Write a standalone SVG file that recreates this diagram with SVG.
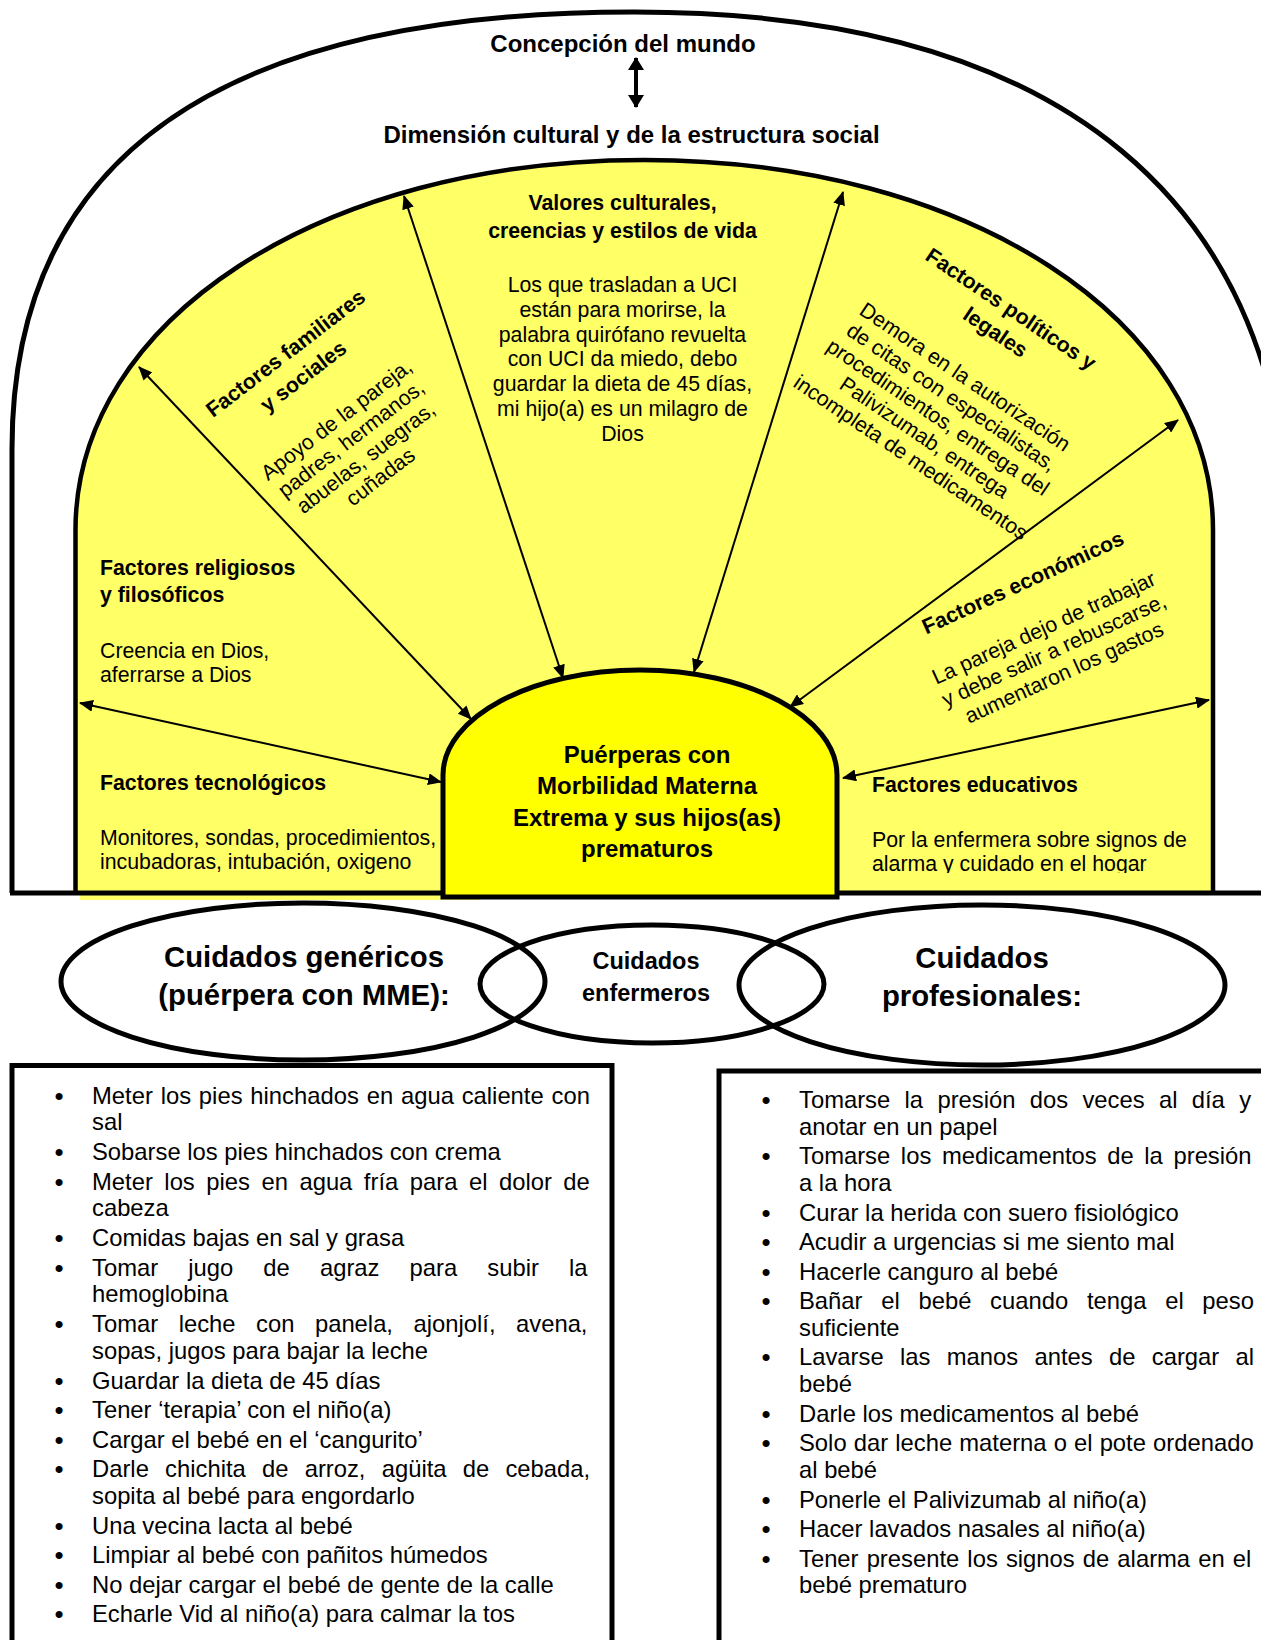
<svg xmlns="http://www.w3.org/2000/svg" width="1261" height="1640" viewBox="0 0 1261 1640">
<defs>
<style>
text{font-family:"Liberation Sans",Arial,sans-serif;fill:#000}
.h{font-weight:bold;font-size:21.3px}
.p{font-size:21.3px}
.m{text-anchor:middle}
.big{font-weight:bold;font-size:24px}
.mid{font-weight:bold;font-size:23.5px;text-anchor:middle}
.ell{font-weight:bold;font-size:29.3px;text-anchor:middle}
.li{font-size:23.8px}
.bul{font-size:26px;text-anchor:middle}
.stk{fill:none;stroke:#000;stroke-width:5}
.con{fill:none;stroke:#000;stroke-width:2}
</style>
<marker id="ah" viewBox="0 0 14 12" refX="13" refY="6" markerWidth="14" markerHeight="12" markerUnits="userSpaceOnUse" orient="auto-start-reverse"><path d="M0,0 L14,6 L0,12 z" fill="#000"/></marker>
<marker id="ah2" viewBox="0 0 13 16" refX="12" refY="8" markerWidth="13" markerHeight="16" markerUnits="userSpaceOnUse" orient="auto-start-reverse"><path d="M0,0 L13,8 L0,16 z" fill="#000"/></marker>
<clipPath id="clipEdu"><rect x="860" y="800" width="350" height="73"/></clipPath>
</defs>
<rect width="1261" height="1640" fill="#fff"/>

<g id="outer-frame">
<path class="stk" d="M12 893 L12 449 C12 157 219 12 634 12 C1060 12 1290 200 1290 560 L1290 893"/>
<text class="big m" x="623" y="52">Concepción del mundo</text>
<text class="big m" x="631.5" y="143">Dimensión cultural y de la estructura social</text>
</g>

<g id="inner-area">
<path d="M75.5 893 L75.5 530 C75.5 320 321 160 644 160 C967 160 1213 320 1213 530 L1213 893 Z" fill="#ffff66"/>
<rect x="80" y="893" width="400" height="7" fill="#ffff66"/>
<path d="M75.5 893 L75.5 530 C75.5 320 321 160 644 160 C967 160 1213 320 1213 530 L1213 893" fill="none" stroke="#000" stroke-width="4.5"/>
<line x1="10" y1="893" x2="1261" y2="893" stroke="#000" stroke-width="5"/>
</g>

<g id="node-valores">
<text class="h m" x="622.5" y="210">Valores culturales,</text>
<text class="h m" x="622.5" y="237.5">creencias y estilos de vida</text>
<text class="p m" x="622.5" y="292">Los que trasladan a UCI</text>
<text class="p m" x="622.5" y="316.8">están para morirse, la</text>
<text class="p m" x="622.5" y="341.6">palabra quirófano revuelta</text>
<text class="p m" x="622.5" y="366.4">con UCI da miedo, debo</text>
<text class="p m" x="622.5" y="391.2">guardar la dieta de 45 días,</text>
<text class="p m" x="622.5" y="416">mi hijo(a) es un milagro de</text>
<text class="p m" x="622.5" y="440.8">Dios</text>
</g>

<g id="node-familiares" transform="translate(290,359) rotate(-37.5)">
<text class="h m" x="0" y="0">Factores familiares</text>
<text class="h m" x="0" y="29">y sociales</text>
<text class="p m" x="0" y="83.6">Apoyo de la pareja,</text>
<text class="p m" x="0" y="107.6">padres, hermanos,</text>
<text class="p m" x="0" y="131.6">abuelas, suegras,</text>
<text class="p m" x="0" y="155.6">cuñadas</text>
</g>

<g id="node-politicos" transform="translate(1007,315) rotate(34)">
<text class="h m" x="0" y="0">Factores políticos y</text>
<text class="h m" x="0" y="28">legales</text>
<text class="p m" x="0" y="82">Demora en la autorización</text>
<text class="p m" x="0" y="106.3">de citas con especialistas,</text>
<text class="p m" x="0" y="130.6">procedimientos, entrega del</text>
<text class="p m" x="0" y="154.9">Palivizumab, entrega</text>
<text class="p m" x="0" y="179.2">incompleta de medicamentos</text>
</g>

<g id="node-economicos" transform="translate(1026,589) rotate(-24.5)">
<text class="h m" x="0" y="0">Factores económicos</text>
<text class="p m" x="0" y="50">La pareja dejo de trabajar</text>
<text class="p m" x="0" y="74.5">y debe salir a rebuscarse,</text>
<text class="p m" x="0" y="99">aumentaron los gastos</text>
</g>

<g id="node-religiosos">
<text class="h" x="100" y="575">Factores religiosos</text>
<text class="h" x="100" y="602">y filosóficos</text>
<text class="p" x="100" y="658">Creencia en Dios,</text>
<text class="p" x="100" y="682">aferrarse a Dios</text>
</g>

<g id="node-tecnologicos">
<text class="h" x="100" y="790">Factores tecnológicos</text>
<text class="p" x="100" y="845">Monitores, sondas, procedimientos,</text>
<text class="p" x="100" y="868.5">incubadoras, intubación, oxigeno</text>
</g>

<g id="node-educativos">
<text class="h" x="872" y="792">Factores educativos</text>
<g clip-path="url(#clipEdu)">
<text class="p" x="872" y="847">Por la enfermera sobre signos de</text>
<text class="p" x="872" y="870.5">alarma y cuidado en el hogar</text>
</g>
</g>

<g id="connectors">
<line class="con" x1="139" y1="367" x2="471" y2="719" marker-start="url(#ah)" marker-end="url(#ah)"/>
<line class="con" x1="404" y1="196" x2="563" y2="678" marker-start="url(#ah)" marker-end="url(#ah)"/>
<line class="con" x1="843" y1="192" x2="694" y2="672" marker-start="url(#ah)" marker-end="url(#ah)"/>
<line class="con" x1="1178" y1="420" x2="790" y2="707" marker-start="url(#ah)" marker-end="url(#ah)"/>
<line class="con" x1="80" y1="703" x2="441" y2="782" marker-start="url(#ah)" marker-end="url(#ah)"/>
<line class="con" x1="843" y1="778" x2="1209" y2="700" marker-start="url(#ah)" marker-end="url(#ah)"/>
<line x1="636" y1="58" x2="636" y2="107" stroke="#000" stroke-width="4" marker-start="url(#ah2)" marker-end="url(#ah2)"/>
</g>

<g id="node-center">
<path d="M443 897 L443 775 C443 717 532 670 640 670 C748 670 837 717 837 775 L837 897 Z" fill="#ffff00" stroke="#000" stroke-width="5"/>
<text class="big m" x="647" y="763">Puérperas con</text>
<text class="big m" x="647" y="794.4">Morbilidad Materna</text>
<text class="big m" x="647" y="825.8">Extrema y sus hijos(as)</text>
<text class="big m" x="647" y="857.2">prematuros</text>
</g>

<g id="node-genericos">
<ellipse class="stk" cx="303" cy="981.5" rx="242" ry="78.5" stroke-width="4.5"/>
</g>
<g id="node-enfermeros">
<ellipse class="stk" cx="652" cy="984" rx="172" ry="59" stroke-width="4.5"/>
</g>
<g id="node-profesionales">
<ellipse class="stk" cx="982" cy="985" rx="243" ry="80" stroke-width="4.5"/>
</g>
<g id="ellipse-labels">
<text class="ell" x="304" y="967">Cuidados genéricos</text>
<text class="ell" x="304" y="1005">(puérpera con MME):</text>
<text class="mid" x="646" y="969">Cuidados</text>
<text class="mid" x="646" y="1001">enfermeros</text>
<text class="ell" x="982" y="968">Cuidados</text>
<text class="ell" x="982" y="1006">profesionales:</text>
</g>

<g id="list-genericos">
<rect class="stk" x="12" y="1065.5" width="600" height="640" stroke-width="4.5"/>
<text class="bul" x="59" y="1104.5">•</text>
<text class="li" x="92" y="1103.5" word-spacing="1.2">Meter los pies hinchados en agua caliente con</text>
<text class="li" x="92" y="1130.3">sal</text>
<text class="bul" x="59" y="1161">•</text>
<text class="li" x="92" y="1160">Sobarse los pies hinchados con crema</text>
<text class="bul" x="59" y="1190.5">•</text>
<text class="li" x="92" y="1189.5" word-spacing="4.9">Meter los pies en agua fría para el dolor de</text>
<text class="li" x="92" y="1216.3">cabeza</text>
<text class="bul" x="59" y="1247">•</text>
<text class="li" x="92" y="1246">Comidas bajas en sal y grasa</text>
<text class="bul" x="59" y="1276.5">•</text>
<text class="li" x="92" y="1275.5" word-spacing="23.5">Tomar jugo de agraz para subir la</text>
<text class="li" x="92" y="1302.3">hemoglobina</text>
<text class="bul" x="59" y="1333">•</text>
<text class="li" x="92" y="1332" word-spacing="13.9">Tomar leche con panela, ajonjolí, avena,</text>
<text class="li" x="92" y="1358.8">sopas, jugos para bajar la leche</text>
<text class="bul" x="59" y="1389.5">•</text>
<text class="li" x="92" y="1388.5">Guardar la dieta de 45 días</text>
<text class="bul" x="59" y="1419">•</text>
<text class="li" x="92" y="1418">Tener ‘terapia’ con el niño(a)</text>
<text class="bul" x="59" y="1448.5">•</text>
<text class="li" x="92" y="1447.5">Cargar el bebé en el ‘cangurito’</text>
<text class="bul" x="59" y="1478">•</text>
<text class="li" x="92" y="1477" word-spacing="9.6">Darle chichita de arroz, agüita de cebada,</text>
<text class="li" x="92" y="1503.8">sopita al bebé para engordarlo</text>
<text class="bul" x="59" y="1534.5">•</text>
<text class="li" x="92" y="1533.5">Una vecina lacta al bebé</text>
<text class="bul" x="59" y="1564">•</text>
<text class="li" x="92" y="1563">Limpiar al bebé con pañitos húmedos</text>
<text class="bul" x="59" y="1593.5">•</text>
<text class="li" x="92" y="1592.5">No dejar cargar el bebé de gente de la calle</text>
<text class="bul" x="59" y="1623">•</text>
<text class="li" x="92" y="1622">Echarle Vid al niño(a) para calmar la tos</text>
</g>

<g id="list-profesionales">
<rect class="stk" x="719" y="1071" width="600" height="640" stroke-width="4.5"/>
<text class="bul" x="766" y="1109">•</text>
<text class="li" x="799" y="1108" word-spacing="7.7">Tomarse la presión dos veces al día y</text>
<text class="li" x="799" y="1134.8">anotar en un papel</text>
<text class="bul" x="766" y="1165.3">•</text>
<text class="li" x="799" y="1164.3" word-spacing="4">Tomarse los medicamentos de la presión</text>
<text class="li" x="799" y="1191.1">a la hora</text>
<text class="bul" x="766" y="1221.6">•</text>
<text class="li" x="799" y="1220.6">Curar la herida con suero fisiológico</text>
<text class="bul" x="766" y="1251.1">•</text>
<text class="li" x="799" y="1250.1">Acudir a urgencias si me siento mal</text>
<text class="bul" x="766" y="1280.6">•</text>
<text class="li" x="799" y="1279.6">Hacerle canguro al bebé</text>
<text class="bul" x="766" y="1310.1">•</text>
<text class="li" x="799" y="1309.1" word-spacing="12.1">Bañar el bebé cuando tenga el peso</text>
<text class="li" x="799" y="1335.9">suficiente</text>
<text class="bul" x="766" y="1366.4">•</text>
<text class="li" x="799" y="1365.4" word-spacing="9.7">Lavarse las manos antes de cargar al</text>
<text class="li" x="799" y="1392.2">bebé</text>
<text class="bul" x="766" y="1422.7">•</text>
<text class="li" x="799" y="1421.7">Darle los medicamentos al bebé</text>
<text class="bul" x="766" y="1452.2">•</text>
<text class="li" x="799" y="1451.2" word-spacing="0.5">Solo dar leche materna o el pote ordenado</text>
<text class="li" x="799" y="1478">al bebé</text>
<text class="bul" x="766" y="1508.5">•</text>
<text class="li" x="799" y="1507.5">Ponerle el Palivizumab al niño(a)</text>
<text class="bul" x="766" y="1538">•</text>
<text class="li" x="799" y="1537">Hacer lavados nasales al niño(a)</text>
<text class="bul" x="766" y="1567.5">•</text>
<text class="li" x="799" y="1566.5" word-spacing="1.5">Tener presente los signos de alarma en el</text>
<text class="li" x="799" y="1593.3">bebé prematuro</text>
</g>
</svg>
